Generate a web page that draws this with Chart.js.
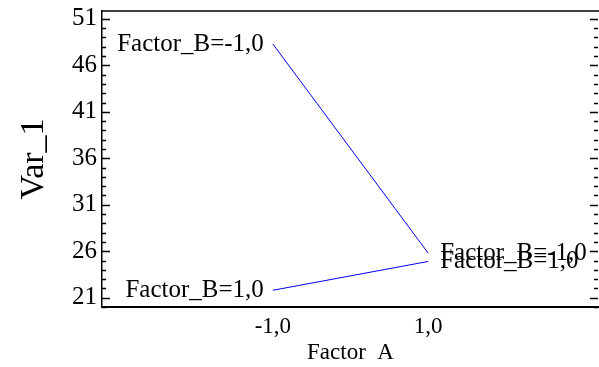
<!DOCTYPE html>
<html>
<head>
<meta charset="utf-8">
<script src="https://cdn.jsdelivr.net/npm/chart.js@4/dist/chart.umd.min.js"></script>
<style>
  html, body { margin: 0; padding: 0; background: #fff; }
  canvas { display: block; }
</style>
</head>
<body>
<canvas id="chart" width="599" height="367"></canvas>
<script>
const factorA = [-1, 1];
const seriesNames = ["Factor_B=-1,0", "Factor_B=1,0"];
const bMinus = [48.3, 25.8];
const bPlus = [21.8, 24.9];
const yTicks = [21, 26, 31, 36, 41, 46, 51];
const xTicks = [-1, 1];

const serif = "'Liberation Serif', 'Times New Roman', serif";

function pts(vals) {
  return factorA.map((a, i) => ({ x: a, y: vals[i] }));
}

const frame = {
  id: "frame",
  afterDraw(chart) {
    const c = chart.ctx;
    const a = chart.chartArea;
    const y = chart.scales.y;
    c.save();
    c.strokeStyle = "#000";
    c.lineWidth = 1.5;
    c.beginPath();
    c.moveTo(a.left, a.top);
    c.lineTo(chart.width, a.top);
    c.stroke();
    for (let v = Math.ceil(y.min); v <= y.max; v++) {
      const p = Math.round(y.getPixelForValue(v)) + 0.5;
      const len = yTicks.includes(v) ? 8 : 4;
      c.beginPath();
      c.moveTo(a.left, p);
      c.lineTo(a.left + len, p);
      c.moveTo(chart.width - 1, p);
      c.lineTo(chart.width - 1 - len, p);
      c.stroke();
    }
    // series labels at both ends of each line
    c.fillStyle = "#000";
    c.font = "25px " + serif;
    c.textBaseline = "middle";
    const x = chart.scales.x;
    chart.data.datasets.forEach(ds => {
      const first = ds.data[0], last = ds.data[ds.data.length - 1];
      c.textAlign = "right";
      c.fillText(ds.label, x.getPixelForValue(first.x) - 9, y.getPixelForValue(first.y));
      c.textAlign = "left";
      c.fillText(ds.label, x.getPixelForValue(last.x) + 12, y.getPixelForValue(last.y));
    });
    c.restore();
  }
};

new Chart(document.getElementById("chart"), {
  type: "line",
  data: {
    datasets: [
      { label: seriesNames[0], data: pts(bMinus), borderColor: "#0000ff", borderWidth: 1, pointRadius: 0, tension: 0 },
      { label: seriesNames[1], data: pts(bPlus), borderColor: "#0000ff", borderWidth: 1, pointRadius: 0, tension: 0 }
    ]
  },
  options: {
    responsive: false,
    animation: false,
    layout: { padding: { top: 11, right: 0, left: 14, bottom: 0 } },
    plugins: { legend: { display: false }, tooltip: { enabled: false } },
    scales: {
      x: {
        type: "linear",
        min: -3.2,
        max: 3.2,
        afterBuildTicks: s => { s.ticks = xTicks.map(v => ({ value: v })); },
        afterFit: s => { s.height = 60; s.paddingLeft = 0; s.paddingRight = 0; },
        grid: { display: false, drawTicks: false },
        border: { display: true, color: "#000", width: 2 },
        ticks: {
          color: "#000",
          padding: 6,
          font: { family: serif, size: 23 },
          callback: v => v.toFixed(1).replace(".", ",")
        },
        title: {
          display: true,
          text: "Factor  A",
          color: "#000",
          font: { family: serif, size: 23 },
          padding: { top: 0, bottom: 0 }
        }
      },
      y: {
        type: "linear",
        min: 20,
        max: 51.85,
        afterBuildTicks: s => { s.ticks = yTicks.map(v => ({ value: v })); },
        afterFit: s => { s.width = 88; s.paddingTop = 0; s.paddingBottom = 0; },
        grid: { display: false, drawTicks: false },
        border: { display: true, color: "#000", width: 1.5 },
        ticks: {
          color: "#000",
          padding: 5,
          font: { family: serif, size: 25 }
        },
        title: {
          display: true,
          text: "Var_1",
          color: "#000",
          font: { family: serif, size: 34 },
          padding: { top: 0, bottom: 0 }
        }
      }
    }
  },
  plugins: [frame]
});
</script>
</body>
</html>
